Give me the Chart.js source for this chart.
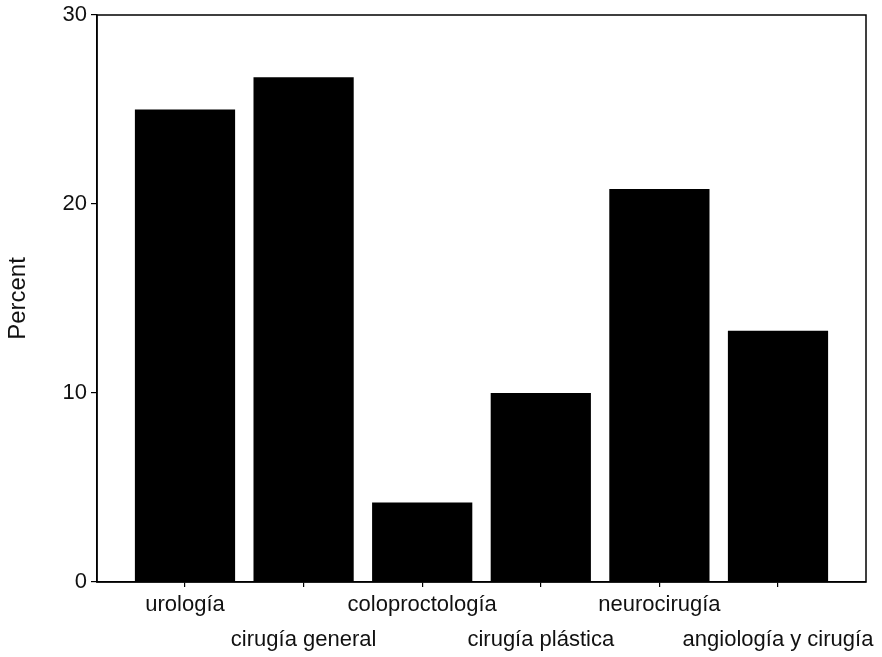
<!DOCTYPE html>
<html>
<head>
<meta charset="utf-8">
<script src="https://cdn.jsdelivr.net/npm/chart.js@4"></script>
<style>
  html, body { margin: 0; padding: 0; background: #fff; }
  #wrap { width: 882px; height: 657px; }
</style>
</head>
<body>
<div id="wrap"><canvas id="chart" width="882" height="657"></canvas></div>
<script>
// Percent by specialty — staggered category labels, boxed frame
const categories = ['urología', 'cirugía general', 'coloproctología', 'cirugía plástica', 'neurocirugía', 'angiología y cirugía'];
const percents = [25.0, 26.7, 4.2, 10.0, 20.8, 13.3];
const yTicks = [0, 10, 20, 30];

const FONT = '"Liberation Sans", Arial, sans-serif';
const INK = '#111';

// full box around the plot area
const frame = {
  id: 'frame',
  afterDraw(chart) {
    const { ctx, chartArea: a } = chart;
    ctx.save();
    ctx.strokeStyle = '#000';
    ctx.lineWidth = 1.5;
    ctx.strokeRect(a.left, a.top, a.right - a.left, a.bottom - a.top);
    ctx.restore();
  }
};

new Chart(document.getElementById('chart'), {
  type: 'bar',
  data: {
    datasets: [{
      data: percents.map((v, i) => ({ x: i, y: v })),
      backgroundColor: '#000',
      borderWidth: 0,
      barPercentage: 1,
      categoryPercentage: 0.845
    }]
  },
  options: {
    responsive: false,
    animation: false,
    layout: { padding: { top: 14, right: 16, left: 0, bottom: 0 } },
    plugins: { legend: { display: false }, tooltip: { enabled: false } },
    scales: {
      x: {
        type: 'linear',
        offset: false,
        min: -0.742,
        max: categories.length - 1 + 0.742,
        afterFit: s => { s.height = 75; },
        border: { display: true, color: '#000', width: 1.5 },
        grid: { offset: false, drawOnChartArea: false, tickLength: 5, color: '#000', lineWidth: 1.2 },
        ticks: {
          stepSize: 1,
          includeBounds: false,
          autoSkip: false,
          maxRotation: 0,
          padding: 0,
          color: INK,
          font: { family: FONT, size: 22, lineHeight: 1.6 },
          callback: v => {
            const i = Math.round(v);
            if (Math.abs(v - i) > 1e-6 || !categories[i]) return '';
            return i % 2 === 0 ? [categories[i], ''] : ['', categories[i]];
          }
        }
      },
      y: {
        min: 0,
        max: 30,
        afterFit: s => { s.width = 97; },
        afterBuildTicks: s => { s.ticks = yTicks.map(v => ({ value: v })); },
        border: { display: true, color: '#000', width: 1.5 },
        grid: { drawOnChartArea: false, tickLength: 6, color: '#000', lineWidth: 1.2 },
        ticks: { padding: 4, color: INK, font: { family: FONT, size: 22, lineHeight: 1 } },
        title: { display: true, text: 'Percent', color: INK, padding: { top: 4, bottom: 0 }, font: { family: FONT, size: 24 } }
      }
    }
  },
  plugins: [frame]
});
</script>
</body>
</html>
